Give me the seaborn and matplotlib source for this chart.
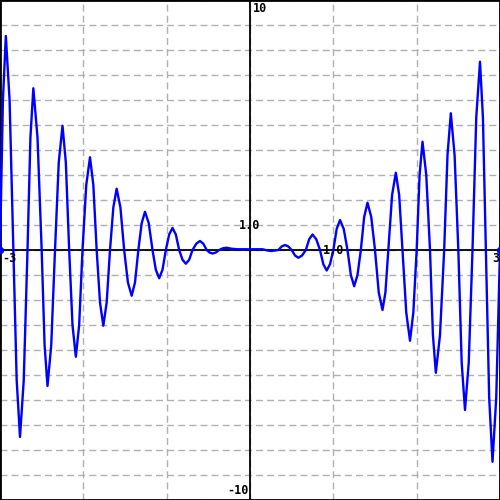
import matplotlib
matplotlib.use("Agg")
import matplotlib.pyplot as plt
import seaborn as sns
import pandas as pd

# curve: zeros, shoulders and extrema, left to right
x_left = [-3.00, -2.965, -2.93, -2.885, -2.84, -2.80, -2.76, -2.715, -2.67, -2.635,
          -2.60, -2.55, -2.50, -2.465, -2.43, -2.385, -2.34, -2.295, -2.25, -2.21,
          -2.17, -2.13, -2.09, -2.05, -2.01, -1.965, -1.92, -1.88, -1.84, -1.80,
          -1.76, -1.72, -1.68, -1.64, -1.60, -1.555, -1.51, -1.465, -1.42, -1.38,
          -1.34, -1.30, -1.26, -1.215, -1.17, -1.13, -1.09, -1.05, -1.01, -0.97,
          -0.93, -0.89, -0.85, -0.81, -0.77, -0.73, -0.69, -0.645, -0.60, -0.56,
          -0.52, -0.485, -0.45, -0.41, -0.37, -0.325, -0.28, -0.22, -0.15]
y_left = [0.00, 6.0, 8.56, 6.0, 0.00, -5.2, -7.48, -5.2, 0.00, 4.5,
          6.47, 4.5, 0.00, -3.8, -5.44, -3.8, 0.00, 3.5, 4.97, 3.5,
          0.00, -3.0, -4.27, -3.0, 0.00, 2.6, 3.71, 2.6, 0.00, -2.1,
          -3.03, -2.1, 0.00, 1.7, 2.45, 1.7, 0.00, -1.3, -1.83, -1.3,
          0.00, 1.07, 1.53, 1.07, 0.00, -0.79, -1.13, -0.79, 0.00, 0.62,
          0.88, 0.62, 0.00, -0.39, -0.55, -0.39, 0.00, 0.25, 0.36, 0.25,
          0.00, -0.10, -0.14, -0.10, 0.00, 0.07, 0.09, 0.05, 0.03]
x_right = [0.00, 0.15, 0.21, 0.26, 0.30, 0.34, 0.38, 0.42, 0.46, 0.50,
           0.54, 0.58, 0.625, 0.67, 0.71, 0.75, 0.795, 0.84, 0.88, 0.92,
           0.96, 1.00, 1.04, 1.08, 1.125, 1.17, 1.21, 1.25, 1.29, 1.33,
           1.37, 1.41, 1.455, 1.50, 1.545, 1.59, 1.625, 1.66, 1.705, 1.75,
           1.79, 1.83, 1.875, 1.92, 1.96, 2.00, 2.035, 2.07, 2.115, 2.16,
           2.195, 2.23, 2.28, 2.33, 2.37, 2.41, 2.455, 2.50, 2.54, 2.58,
           2.625, 2.67, 2.715, 2.76, 2.795, 2.83, 2.87, 2.91, 2.955, 3.00]
y_right = [0.03, 0.03, -0.02, -0.04, -0.02, 0.00, 0.14, 0.20, 0.14, 0.00,
           -0.22, -0.31, -0.22, 0.00, 0.43, 0.62, 0.43, 0.00, -0.57, -0.82,
           -0.57, 0.00, 0.84, 1.20, 0.84, 0.00, -1.0, -1.45, -1.0, 0.00,
           1.32, 1.89, 1.32, 0.00, -1.7, -2.40, -1.7, 0.00, 2.2, 3.09,
           2.2, 0.00, -2.5, -3.63, -2.5, 0.00, 3.0, 4.33, 3.0, 0.00,
           -3.4, -4.91, -3.4, 0.00, 3.8, 5.47, 3.8, 0.00, -4.5, -6.40,
           -4.5, 0.00, 5.3, 7.53, 5.3, 0.00, -5.9, -8.47, -5.9, 0.00]

x_ticks = list(range(-3, 4))
y_ticks = list(range(-10, 11))

curve = pd.DataFrame({"x": x_left + x_right, "y": y_left + y_right})

sns.set_style("white")
fig = plt.figure(figsize=(5, 5), dpi=100)
ax = fig.add_axes([0, 0, 1, 1])

ax.set_xlim(-3, 3)
ax.set_ylim(-10, 10)
ax.set_xticks(x_ticks)
ax.set_yticks(y_ticks)
ax.tick_params(length=0, labelbottom=False, labelleft=False)
ax.grid(True, color="#b0b0b0", linestyle=(0, (5, 3)), linewidth=1.0)
ax.set_axisbelow(True)
for s in ax.spines.values():
    s.set_color("black")
    s.set_linewidth(2.0)

ax.axhline(0, color="black", linewidth=1.3, zorder=2)
ax.axvline(0, color="black", linewidth=1.3, zorder=2)

sns.lineplot(data=curve, x="x", y="y", sort=False, estimator=None,
             color="#0000ff", linewidth=1.7, ax=ax, zorder=3)
ends = curve.iloc[[0, -1]]
sns.scatterplot(data=ends, x="x", y="y", color="#0000ff", s=28,
                linewidth=0, ax=ax, zorder=4, clip_on=False)
ax.set_xlabel("")
ax.set_ylabel("")

font = dict(family="DejaVu Sans Mono", weight="bold", fontsize=8.5, color="black")
ax.text(0.03, 9.9, "10", ha="left", va="top", **font)
ax.text(-0.02, -9.9, "-10", ha="right", va="bottom", **font)
ax.text(-2.97, -0.1, "-3", ha="left", va="top", **font)
ax.text(2.99, -0.1, "3", ha="right", va="top", **font)
ax.text(0, 0.97, "1.0", ha="center", va="center", **font)
ax.text(1, -0.02, "1.0", ha="center", va="center", **font)

fig.savefig("out.png", dpi=100)
plt.close(fig)
